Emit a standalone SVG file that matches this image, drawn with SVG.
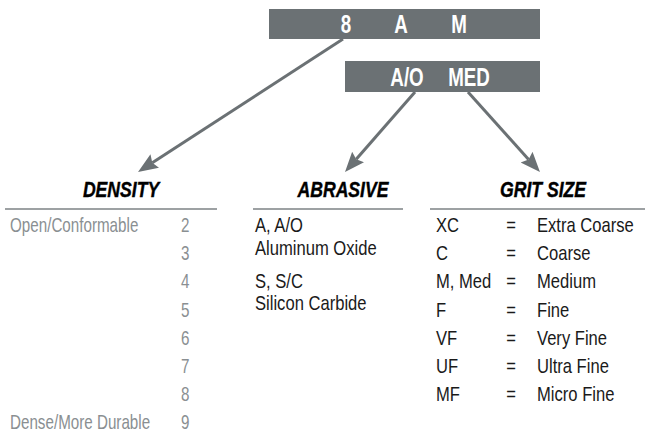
<svg xmlns="http://www.w3.org/2000/svg" width="645" height="435" viewBox="0 0 645 435">
<style>
.bar{fill:#6b7174}
.bt{font-family:"Liberation Sans",Arial,sans-serif;font-weight:bold;font-size:25px;fill:#ffffff;text-anchor:middle}
.hd{font-family:"Liberation Sans",Arial,sans-serif;font-weight:bold;font-style:italic;font-size:22px;fill:#000000;text-anchor:middle;stroke:#000000;stroke-width:0.4}
.rule{stroke:#7d8285;stroke-width:1.5}
.den{font-family:"Liberation Sans",Arial,sans-serif;font-size:20px;fill:#8a8f92}
.tx{font-family:"Liberation Sans",Arial,sans-serif;font-size:20px;fill:#1a1a1a}
.eq{text-anchor:middle}
.conn{stroke:#6b7174;stroke-width:3;fill:none;marker-end:url(#ah)}
</style>
<defs>
<marker id="ah" markerUnits="userSpaceOnUse" markerWidth="22" markerHeight="18" refX="3" refY="8" orient="auto">
<path d="M0,0 L20,8 L0,16 L3,8 Z" fill="#6b7174"/>
</marker>
</defs>

<g id="code-bar">
<rect class="bar" x="269" y="9" width="271" height="30"/>
<text class="bt" transform="translate(346,33) scale(0.75,1)">8</text>
<text class="bt" transform="translate(401,33) scale(0.75,1)">A</text>
<text class="bt" transform="translate(459,33) scale(0.75,1)">M</text>
</g>

<g id="code-bar-2">
<rect class="bar" x="345" y="61" width="195" height="31"/>
<text class="bt" transform="translate(407,86) scale(0.75,1)">A/O</text>
<text class="bt" transform="translate(469,86) scale(0.75,1)">MED</text>
</g>

<g id="connectors">
<line class="conn" x1="343" y1="39" x2="152.3" y2="162.7"/>
<line class="conn" x1="415" y1="92" x2="356.2" y2="159.2"/>
<line class="conn" x1="468" y1="92" x2="528.6" y2="159.4"/>
</g>

<g id="density">
<text class="hd" transform="translate(121,197) scale(0.8,1)">DENSITY</text>
<line class="rule" x1="5" y1="209" x2="217" y2="209"/>
<text class="den" transform="translate(10,232) scale(0.76,1)">Open/Conformable</text>
<text class="den" transform="translate(181,232) scale(0.76,1)">2</text>
<text class="den" transform="translate(181,260.2) scale(0.76,1)">3</text>
<text class="den" transform="translate(181,288.4) scale(0.76,1)">4</text>
<text class="den" transform="translate(181,316.6) scale(0.76,1)">5</text>
<text class="den" transform="translate(181,344.8) scale(0.76,1)">6</text>
<text class="den" transform="translate(181,373) scale(0.76,1)">7</text>
<text class="den" transform="translate(181,401.2) scale(0.76,1)">8</text>
<text class="den" transform="translate(10,429.4) scale(0.76,1)">Dense/More Durable</text>
<text class="den" transform="translate(181,429.4) scale(0.76,1)">9</text>
</g>

<g id="abrasive">
<text class="hd" transform="translate(343,197) scale(0.8,1)">ABRASIVE</text>
<line class="rule" x1="253" y1="209" x2="403" y2="209"/>
<text class="tx" transform="translate(255,232) scale(0.83,1)">A, A/O</text>
<text class="tx" transform="translate(255,255) scale(0.83,1)">Aluminum Oxide</text>
<text class="tx" transform="translate(255,288) scale(0.83,1)">S, S/C</text>
<text class="tx" transform="translate(255,310) scale(0.83,1)">Silicon Carbide</text>
</g>

<g id="grit-size">
<text class="hd" transform="translate(543,197) scale(0.8,1)">GRIT SIZE</text>
<line class="rule" x1="430" y1="209" x2="645" y2="209"/>
<text class="tx" transform="translate(436,232) scale(0.83,1)">XC</text>
<text class="tx eq" transform="translate(511,232) scale(0.83,1)">=</text>
<text class="tx" transform="translate(537,232) scale(0.83,1)">Extra Coarse</text>
<text class="tx" transform="translate(436,260.2) scale(0.83,1)">C</text>
<text class="tx eq" transform="translate(511,260.2) scale(0.83,1)">=</text>
<text class="tx" transform="translate(537,260.2) scale(0.83,1)">Coarse</text>
<text class="tx" transform="translate(436,288.4) scale(0.83,1)">M, Med</text>
<text class="tx eq" transform="translate(511,288.4) scale(0.83,1)">=</text>
<text class="tx" transform="translate(537,288.4) scale(0.83,1)">Medium</text>
<text class="tx" transform="translate(436,316.6) scale(0.83,1)">F</text>
<text class="tx eq" transform="translate(511,316.6) scale(0.83,1)">=</text>
<text class="tx" transform="translate(537,316.6) scale(0.83,1)">Fine</text>
<text class="tx" transform="translate(436,344.8) scale(0.83,1)">VF</text>
<text class="tx eq" transform="translate(511,344.8) scale(0.83,1)">=</text>
<text class="tx" transform="translate(537,344.8) scale(0.83,1)">Very Fine</text>
<text class="tx" transform="translate(436,373) scale(0.83,1)">UF</text>
<text class="tx eq" transform="translate(511,373) scale(0.83,1)">=</text>
<text class="tx" transform="translate(537,373) scale(0.83,1)">Ultra Fine</text>
<text class="tx" transform="translate(436,401.2) scale(0.83,1)">MF</text>
<text class="tx eq" transform="translate(511,401.2) scale(0.83,1)">=</text>
<text class="tx" transform="translate(537,401.2) scale(0.83,1)">Micro Fine</text>
</g>
</svg>
